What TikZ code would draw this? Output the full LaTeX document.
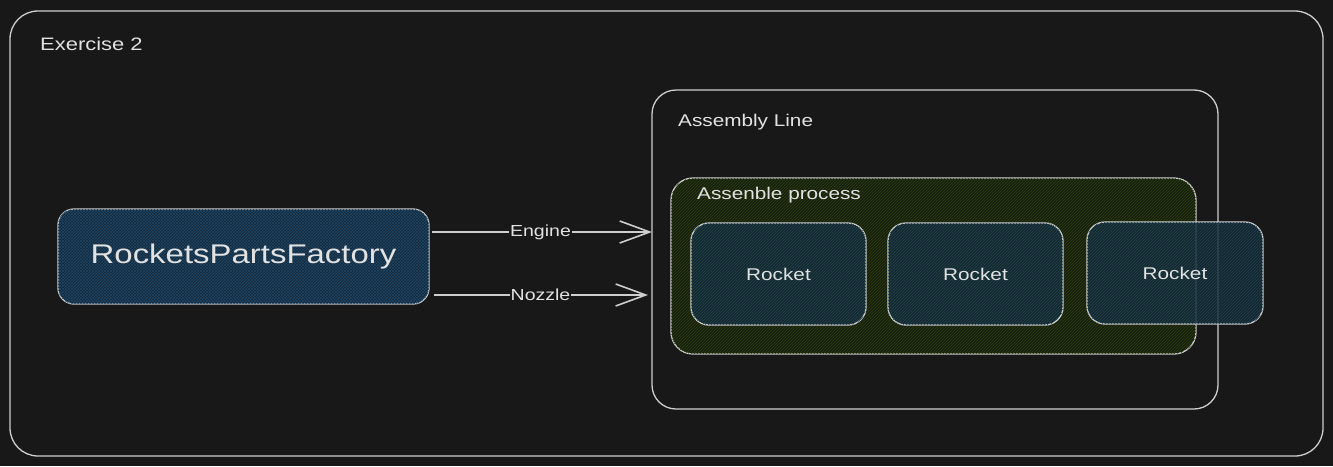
\documentclass[tikz,border=0pt]{standalone}
\usepackage{fontspec}
\setmainfont{Liberation Sans}
\newfontfamily\handfont[FakeStretch=1.22]{Liberation Sans}
\usetikzlibrary{arrows.meta,patterns}
\definecolor{bgc}{RGB}{24,24,24}
\definecolor{strk}{RGB}{206,206,206}
\definecolor{txt}{RGB}{226,226,226}
\definecolor{fbase}{RGB}{20,38,54}
\definecolor{fline}{RGB}{30,72,104}
\definecolor{pbase}{RGB}{24,30,16}
\definecolor{pline}{RGB}{44,66,12}
\definecolor{rbase}{RGB}{22,42,50}
\definecolor{rline}{RGB}{30,66,86}
\tikzset{
  box/.style={draw=strk, line width=1.3pt, inner sep=0pt, outer sep=0pt},
  framebox/.style={box, rounded corners=28pt},
  factorybox/.style={box, rounded corners=16pt, fill=fbase,
     postaction={pattern=crosshatch, pattern color=fline}},
  procbox/.style={box, rounded corners=22pt, fill=pbase,
     postaction={pattern=north east lines, pattern color=pline}},
  rocketbox/.style={box, rounded corners=18pt, fill=rbase, fill opacity=0.8,
     postaction={pattern=north east lines, pattern color=rline}},
  lbl/.style={text=txt, font=\handfont\fontsize{17}{20}\selectfont, inner sep=0pt},
  edgelbl/.style={text=txt, font=\handfont\fontsize{16}{19}\selectfont, fill=bgc, inner sep=1pt},
  arr/.style={draw=strk, line width=1.6pt, -{Straight Barb[length=30pt,width=22pt,line width=1.6pt]}},
}
\begin{document}
\begin{tikzpicture}[x=1pt,y=-1pt]
\fill[bgc] (0,0) rectangle (1333,466);
\useasboundingbox (0,0) rectangle (1333,466);
% outer frame
\node[framebox, minimum width=1313pt, minimum height=445pt] (outer) at (666.5,233.5) {};
\node[lbl, anchor=west, font=\handfont\fontsize{18}{21}\selectfont] (extitle) at (40,44) {Exercise 2};
% factory
\node[factorybox, minimum width=371pt, minimum height=95pt, text=txt,
      font=\handfont\fontsize{27}{31}\selectfont] (factory) at (243.5,256.5) {RocketsPartsFactory};
% assembly line
\node[framebox, rounded corners=24pt, minimum width=566pt, minimum height=319pt] (assembly) at (935,249.5) {};
\node[lbl, anchor=west] (altitle) at (678,122) {Assembly Line};
% assemble process
\node[procbox, minimum width=525pt, minimum height=176pt] (process) at (933.5,266) {};
\node[lbl, anchor=west] (prtitle) at (697,195) {Assenble process};
% rockets
\node[rocketbox, minimum width=175pt, minimum height=102pt] (r1) at (778.5,274) {};
\node[rocketbox, minimum width=175pt, minimum height=102pt] (r2) at (975.5,274) {};
\node[rocketbox, minimum width=176pt, minimum height=102pt] (r3) at (1175,273) {};
\node[lbl] (r1t) at (r1) {Rocket};
\node[lbl] (r2t) at (r2) {Rocket};
\node[lbl] (r3t) at (r3) {Rocket};
% connectors
\coordinate (ey) at (0,232);
\coordinate (ny) at (0,295);
\draw[arr, shorten <=3pt] (factory.east |- ey) -- node[edgelbl] (elbl) {Engine} (assembly.west |- ey);
\draw[arr, shorten <=5pt, shorten >=4pt] (factory.east |- ny) -- node[edgelbl] (nlbl) {Nozzle} (assembly.west |- ny);
\end{tikzpicture}
\end{document}
